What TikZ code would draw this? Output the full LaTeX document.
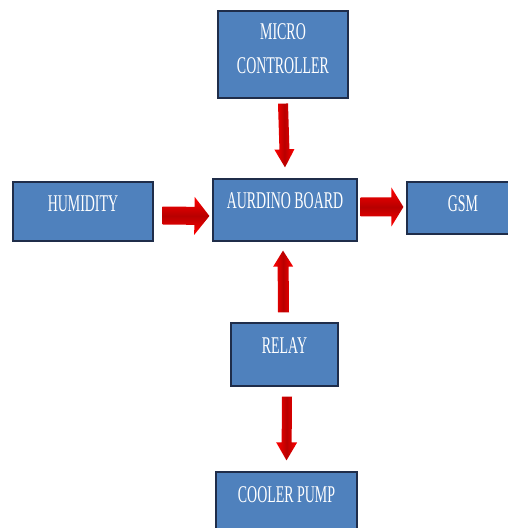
\documentclass[tikz,border=0pt]{standalone}
\usepackage{fontspec}
\setmainfont{Liberation Serif}
\usetikzlibrary{calc}
\definecolor{boxblue}{RGB}{79,129,189}
\definecolor{boxline}{RGB}{31,45,74}
\newcommand{\sq}[1]{\scalebox{0.58}[1]{#1}}
% style, from, to, half shaft, half head, head length
\newcommand{\blockarrow}[6]{%
  \coordinate (ba-h) at ($(#3)!#6!(#2)$);
  \shade[#1] ($(#2)!#4!90:(#3)$) -- ($(ba-h)!#4!90:(#3)$) -- ($(ba-h)!#5!90:(#3)$) -- (#3)
    -- ($(ba-h)!#5!-90:(#3)$) -- ($(ba-h)!#4!-90:(#3)$) -- ($(#2)!#4!-90:(#3)$) -- cycle;}
\tikzset{
    block/.style={draw=boxline,line width=1.2pt,fill=boxblue,text=white,inner sep=2pt,
        font=\fontsize{24}{34}\selectfont,align=center},
    lift/.style={text depth=#1},
    vertarrow/.style={left color=red,right color=red,middle color=red!72!black},
    horarrow/.style={top color=red,bottom color=red,middle color=red!72!black}
}
\begin{document}
\begin{tikzpicture}[x=1pt,y=1pt]
\useasboundingbox (0,0) rectangle (507,528);
\node[block,minimum width=130pt,minimum height=87pt,lift=11pt] (mc) at (283,473.5) {\sq{MICRO}\\\sq{CONTROLLER}};
\node[block,minimum width=140pt,minimum height=59pt,lift=15pt] (hum) at (83,316.5) {\sq{HUMIDITY}};
\node[block,minimum width=144pt,minimum height=62pt,lift=18pt] (ab) at (285,318) {\sq{AURDINO BOARD}};
\node[block,minimum width=112pt,minimum height=52pt,lift=8pt] (gsm) at (463,320) {\sq{GSM}};
\node[block,minimum width=107pt,minimum height=63pt,lift=17pt] (relay) at (284.5,173.5) {\sq{RELAY}};
\node[block,minimum width=141pt,minimum height=60pt,lift=14pt] (pump) at (286.5,26) {\sq{COOLER PUMP}};
% arrow ends
\coordinate (mc-out) at ([yshift=-5pt]mc.south);
\coordinate (ab-top) at ([yshift=11pt]ab.north);
\coordinate (hum-out) at ([xshift=9pt,yshift=-4pt]hum.east);
\coordinate (ab-left) at ([xshift=-3pt,yshift=-6pt]ab.west);
\coordinate (ab-right) at ([xshift=3pt,yshift=3pt]ab.east);
\coordinate (gsm-in) at ([xshift=-3pt,yshift=1pt]gsm.west);
\coordinate (relay-out) at ([xshift=-1pt,yshift=10pt]relay.north);
\coordinate (ab-bot) at ([xshift=-2pt,yshift=-9pt]ab.south);
\coordinate (relay-down) at ([xshift=2.5pt,yshift=-10pt]relay.south);
\coordinate (pump-in) at ([yshift=11pt]pump.north);
\blockarrow{vertarrow}{mc-out}{ab-top}{5pt}{10pt}{18pt}
\blockarrow{horarrow}{hum-out}{ab-left}{9pt}{19pt}{15pt}
\blockarrow{horarrow}{ab-right}{gsm-in}{9.5pt}{19.5pt}{12pt}
\blockarrow{vertarrow}{relay-out}{ab-bot}{5.5pt}{10pt}{16pt}
\blockarrow{vertarrow}{relay-down}{pump-in}{5pt}{10.5pt}{18pt}
\end{tikzpicture}
\end{document}
